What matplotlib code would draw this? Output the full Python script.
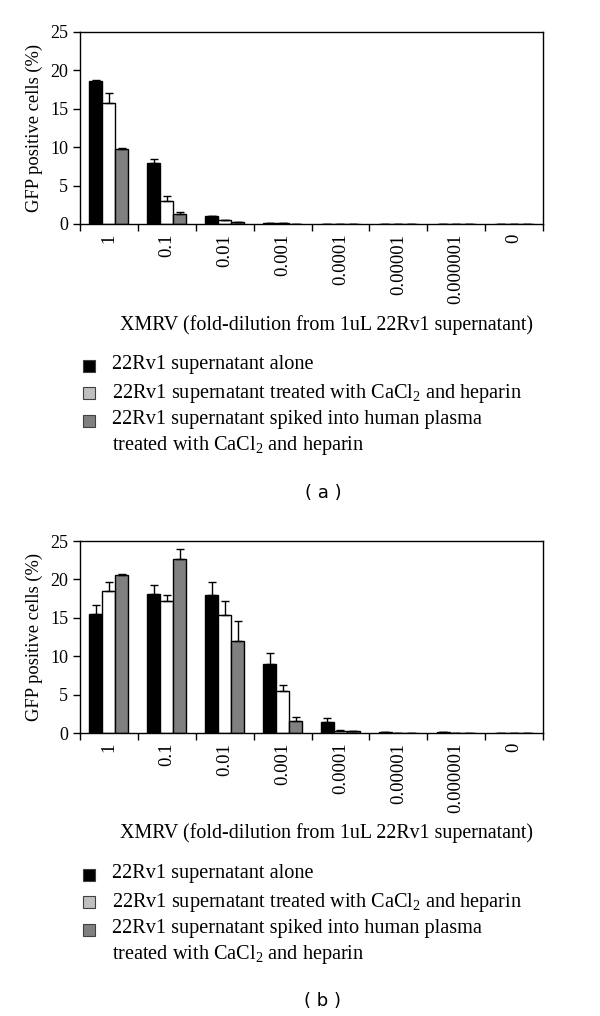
import matplotlib
matplotlib.use("Agg")
import matplotlib.pyplot as plt
import numpy as np
from matplotlib.patches import Rectangle

plt.rcParams['font.family'] = ['Liberation Serif', 'DejaVu Serif']
plt.rcParams['mathtext.fontset'] = 'custom'
plt.rcParams['mathtext.rm'] = 'Liberation Serif'

categories = ["1", "0.1", "0.01", "0.001", "0.0001", "0.00001", "0.000001", "0"]
series_names = ["22Rv1 supernatant alone",
                r"22Rv1 supernatant treated with CaCl$_\mathrm{2}$ and heparin",
                "22Rv1 supernatant spiked into human plasma\n" + r"treated with CaCl$_\mathrm{2}$ and heparin"]

# Panel (a)
a_alone = [18.6, 8.0, 1.0, 0.15, 0.05, 0.03, 0.01, 0.0]
a_alone_err = [0.1, 0.4, 0.05, 0.02, 0.01, 0.01, 0.0, 0.0]
a_cacl = [15.7, 2.95, 0.5, 0.1, 0.05, 0.03, 0.01, 0.0]
a_cacl_err = [1.35, 0.65, 0.05, 0.02, 0.01, 0.0, 0.0, 0.0]
a_plasma = [9.8, 1.35, 0.2, 0.05, 0.04, 0.02, 0.01, 0.0]
a_plasma_err = [0.15, 0.15, 0.03, 0.01, 0.0, 0.0, 0.0, 0.0]

# Panel (b)
b_alone = [15.5, 18.15, 18.0, 8.97, 1.45, 0.07, 0.1, 0.01]
b_alone_err = [1.15, 1.15, 1.65, 1.4, 0.55, 0.02, 0.02, 0.0]
b_cacl = [18.45, 17.15, 15.4, 5.5, 0.27, 0.05, 0.03, 0.01]
b_cacl_err = [1.15, 0.85, 1.85, 0.7, 0.1, 0.01, 0.0, 0.0]
b_plasma = [20.6, 22.6, 12.0, 1.55, 0.22, 0.02, 0.02, 0.01]
b_plasma_err = [0.05, 1.4, 2.6, 0.52, 0.03, 0.0, 0.0, 0.0]

colors = ["black", "white", "#808080"]
legend_colors = ["black", "#c0c0c0", "#808080"]

fig = plt.figure(figsize=(6.0, 10.16), dpi=100)

W, H = 600.0, 1016.0


def panel(top_px, bottom_px, vals, errs, label, leg_rows, tag):
    ax = fig.add_axes([80 / W, 1 - bottom_px / H, 463 / W, (bottom_px - top_px) / H])
    x = np.arange(len(categories))
    bw = 0.225
    for i, (v, e) in enumerate(zip(vals, errs)):
        ax.bar(x + (i - 1) * bw, v, width=bw, color=colors[i], edgecolor="black",
               linewidth=1.0, zorder=2)
        ax.errorbar(x + (i - 1) * bw, v, yerr=[np.zeros(len(e)), e], fmt="none",
                    ecolor="black", elinewidth=1.0, capsize=3, capthick=1.0, zorder=3)
    ax.set_xlim(-0.5, len(categories) - 0.5)
    ax.set_ylim(0, 25)
    ax.set_yticks([0, 5, 10, 15, 20, 25])
    ax.set_xticks(np.arange(len(categories) + 1) - 0.5)
    ax.set_xticklabels([])
    ax.set_xticks(x, minor=True)
    ax.set_xticklabels(categories, minor=True, rotation=90, fontsize=13.5)
    ax.tick_params(axis="x", which="minor", length=0, pad=7)
    ax.tick_params(axis="x", which="major", length=5, direction="out", width=1)
    ax.tick_params(axis="y", length=5, direction="out", width=1, labelsize=13)
    for s in ax.spines.values():
        s.set_linewidth(1.0)
    ax.set_ylabel("GFP positive cells (%)", fontsize=13.3, labelpad=5)
    fig.text(327 / W, 1 - label / H, "XMRV (fold-dilution from 1uL 22Rv1 supernatant)",
             ha="center", va="center", fontsize=14.4)
    # legend
    for i, name in enumerate(series_names):
        yc = leg_rows[i]
        fig.add_artist(Rectangle((83 / W, 1 - (yc + 6) / H), 12 / W, 12 / H,
                                 transform=fig.transFigure, facecolor=legend_colors[i],
                                 edgecolor="#404040", linewidth=0.8))
        fig.text(112 / W, 1 - (yc - 11) / H, name, ha="left", va="top", fontsize=14.6,
                 linespacing=1.3)
    fig.text(323 / W, 1 - (label + 168) / H, "( " + tag + " )",
             ha="center", va="center", fontsize=13, family="DejaVu Sans")
    return ax


panel(32, 224, [a_alone, a_cacl, a_plasma], [a_alone_err, a_cacl_err, a_plasma_err],
      325, [366, 393, 421], "a")
panel(541, 733, [b_alone, b_cacl, b_plasma], [b_alone_err, b_cacl_err, b_plasma_err],
      833, [875, 902, 930], "b")

fig.savefig("out.png", dpi=100, facecolor="white")
